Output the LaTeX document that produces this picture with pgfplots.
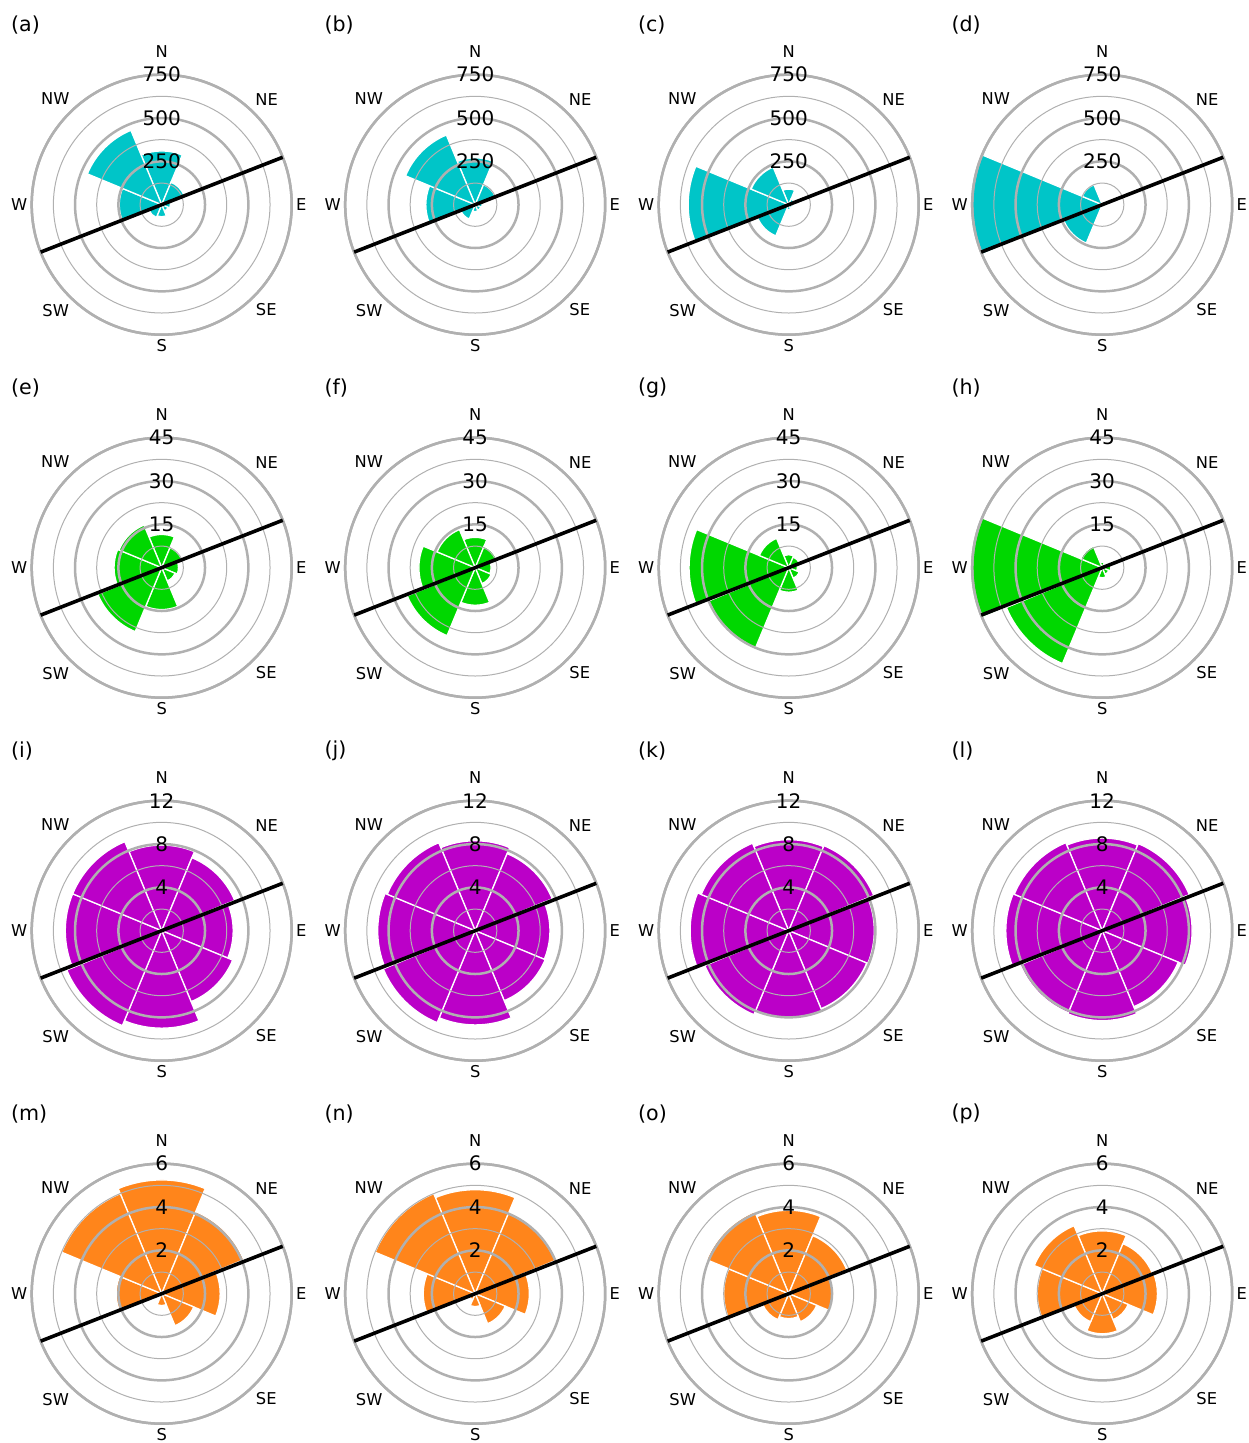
\documentclass[border=0pt]{standalone}
\usepackage{fontspec}
\setmainfont{DejaVu Sans}
\usepackage{pgfplots}
\usepackage{pgfplotstable}
\pgfplotsset{compat=1.18}
\usepgfplotslibrary{polar}

\definecolor{ringgray}{HTML}{B0B0B0}
\definecolor{cyanC}{RGB}{0,197,200}
\definecolor{greenC}{RGB}{0,215,0}
\definecolor{purpC}{RGB}{187,0,200}
\definecolor{orangeC}{RGB}{255,133,27}

% sector values: ang = math angle of sector centre (N=90, E=0)
\pgfplotstableread{
ang a b c d
90 310 270 90 15
45 140 125 35 10
0 50 40 30 15
-45 40 35 25 10
-90 70 40 30 10
-135 80 90 195 240
180 245 285 580 750
135 465 435 235 125
}\tabA
\pgfplotstableread{
ang e f g h
90 11.5 10.5 4.5 2
45 7.5 8 4 1.5
0 5.8 5.5 3 3
-45 5 6 4 2.5
-90 14.5 13 8.5 3.5
-135 24 25.5 30 36
180 16.5 19.5 34.5 45
135 16 14.3 11 8
}\tabB
\pgfplotstableread{
ang i j k l
90 7.9 8.3 8.4 8.55
45 7.3 7.7 8.5 8.7
0 6.6 6.9 7.9 8.3
-45 7.1 7.0 7.8 7.6
-90 9.0 8.7 8.1 8.3
-135 9.5 9.2 8.4 8.2
180 8.9 9.0 9.1 8.9
135 8.9 8.8 8.75 8.8
}\tabC
\pgfplotstableread{
ang m n o p
90 5.25 4.8 3.85 2.9
45 4.1 4.0 2.9 2.5
0 2.7 2.5 2.05 2.55
-45 1.6 1.5 1.4 1.3
-90 0.55 0.6 1.15 1.85
-135 0.1 0.3 1.3 1.4
180 2.1 2.4 3.0 3.0
135 5.0 5.0 4.1 3.4
}\tabD

% a wind-rose sector: the mark sits at the data point (angle, value);
% its apex is the axis centre (\rscx,\rscy)
\pgfdeclareplotmark{sector}{%
  \pgfgettransformentries{\rsa}{\rsb}{\rsc}{\rsd}{\rstx}{\rsty}%
  \pgfmathsetmacro\rspx{\rstx-\rscx}%
  \pgfmathsetmacro\rspy{\rsty-\rscy}%
  \pgfmathsetmacro\secR{veclen(\rspx,\rspy)}%
  \pgfmathsetmacro\rsang{atan2(\rspy,\rspx)}%
  \pgfmathsetmacro\secA{\rsang-22.5}%
  \pgfmathsetmacro\secB{\rsang+22.5}%
  \pgfpathmoveto{\pgfqpoint{-\rspx pt}{-\rspy pt}}%
  \pgfpathlineto{\pgfpointadd{\pgfqpoint{-\rspx pt}{-\rspy pt}}{\pgfpointpolar{\secA}{\secR pt}}}%
  \pgfpatharc{\secA}{\secB}{\secR pt}%
  \pgfpathclose
  \pgfusepathqfillstroke
}

\pgfplotsset{
  rose/.style={
    scale only axis, width=130pt, height=130pt, anchor=center,
    xmin=0, xmax=360, ymin=0,
    xtick={0,45,...,315},
    xticklabels={E,NE,{\raisebox{6.5pt}{N}},NW,W,SW,S,SE},
    xticklabel style={font=\fontsize{8.15}{9.8}\selectfont, inner sep=2pt},
    yticklabels={},
    xmajorgrids=false, ymajorgrids=true, yminorgrids=true,
    major grid style={line width=1.25pt, color=ringgray},
    minor grid style={line width=0.5pt, color=ringgray},
    axis line style={line width=1.25pt, color=ringgray},
    y axis line style={draw=none},
    major tick length=0pt, minor tick length=0pt,
    set layers, clip=false,
  },
  rowA/.style={ymax=750, ytick={250,500,750}, minor ytick={125,375,625}},
  rowB/.style={ymax=45, ytick={15,30,45}, minor ytick={7.5,22.5,37.5}},
  rowC/.style={ymax=12, ytick={4,8,12}, minor ytick={2,6,10}},
  rowD/.style={ymax=6, ytick={2,4,6}, minor ytick={1,3,5}},
  rosebar/.style={on layer=axis background, mark layer=axis background,
    only marks, mark=sector,
    mark options={draw=white, fill=rowcol, line width=0.65pt}},
  coast/.style={black, line width=1.8pt, mark=none},
  rlab/.style={draw=none, mark=none, nodes near coords, point meta=explicit symbolic,
    every node near coord/.append style={anchor=center, inner sep=0pt,
      font=\fontsize{10}{12}\selectfont, text=black}},
}

\newcommand\rose[8]{%
\def\rscx{#1}\def\rscy{#2}%
\begin{polaraxis}[rose,#3,at={(#1pt,#2pt)}]
\addplot[rosebar] table[x=ang,y=#5]{#4};
\addplot[coast] coordinates {(21.4,#8) (201.4,#8)};
\addplot[rlab] coordinates {(90,#6)[#6] (90,#7)[#7] (90,#8)[#8]};
\end{polaraxis}}

\begin{document}
\begin{tikzpicture}
\tikzset{plab/.style={anchor=west, inner sep=0pt, font=\fontsize{10.3}{12}\selectfont}}
% row 1
\colorlet{rowcol}{cyanC}
\rose{80.85}{619.15}{rowA}{\tabA}{a}{250}{500}{750}
\rose{237.6}{619.15}{rowA}{\tabA}{b}{250}{500}{750}
\rose{394.35}{619.15}{rowA}{\tabA}{c}{250}{500}{750}
\rose{551.1}{619.15}{rowA}{\tabA}{d}{250}{500}{750}
% row 2
\colorlet{rowcol}{greenC}
\rose{80.85}{437.65}{rowB}{\tabB}{e}{15}{30}{45}
\rose{237.6}{437.65}{rowB}{\tabB}{f}{15}{30}{45}
\rose{394.35}{437.65}{rowB}{\tabB}{g}{15}{30}{45}
\rose{551.1}{437.65}{rowB}{\tabB}{h}{15}{30}{45}
% row 3
\colorlet{rowcol}{purpC}
\rose{80.85}{256.15}{rowC}{\tabC}{i}{4}{8}{12}
\rose{237.6}{256.15}{rowC}{\tabC}{j}{4}{8}{12}
\rose{394.35}{256.15}{rowC}{\tabC}{k}{4}{8}{12}
\rose{551.1}{256.15}{rowC}{\tabC}{l}{4}{8}{12}
% row 4
\colorlet{rowcol}{orangeC}
\rose{80.85}{74.65}{rowD}{\tabD}{m}{2}{4}{6}
\rose{237.6}{74.65}{rowD}{\tabD}{n}{2}{4}{6}
\rose{394.35}{74.65}{rowD}{\tabD}{o}{2}{4}{6}
\rose{551.1}{74.65}{rowD}{\tabD}{p}{2}{4}{6}
% panel letters
\node[plab] at (5.35pt,709pt) {(a)};
\node[plab] at (162.1pt,709pt) {(b)};
\node[plab] at (318.85pt,709pt) {(c)};
\node[plab] at (475.6pt,709pt) {(d)};
\node[plab] at (5.35pt,527.5pt) {(e)};
\node[plab] at (162.1pt,527.5pt) {(f)};
\node[plab] at (318.85pt,527.5pt) {(g)};
\node[plab] at (475.6pt,527.5pt) {(h)};
\node[plab] at (5.35pt,346pt) {(i)};
\node[plab] at (162.1pt,346pt) {(j)};
\node[plab] at (318.85pt,346pt) {(k)};
\node[plab] at (475.6pt,346pt) {(l)};
\node[plab] at (5.35pt,164.5pt) {(m)};
\node[plab] at (162.1pt,164.5pt) {(n)};
\node[plab] at (318.85pt,164.5pt) {(o)};
\node[plab] at (475.6pt,164.5pt) {(p)};
\pgfresetboundingbox
\path[use as bounding box] (0,0) rectangle (624pt,721.5pt);
\end{tikzpicture}
\end{document}
